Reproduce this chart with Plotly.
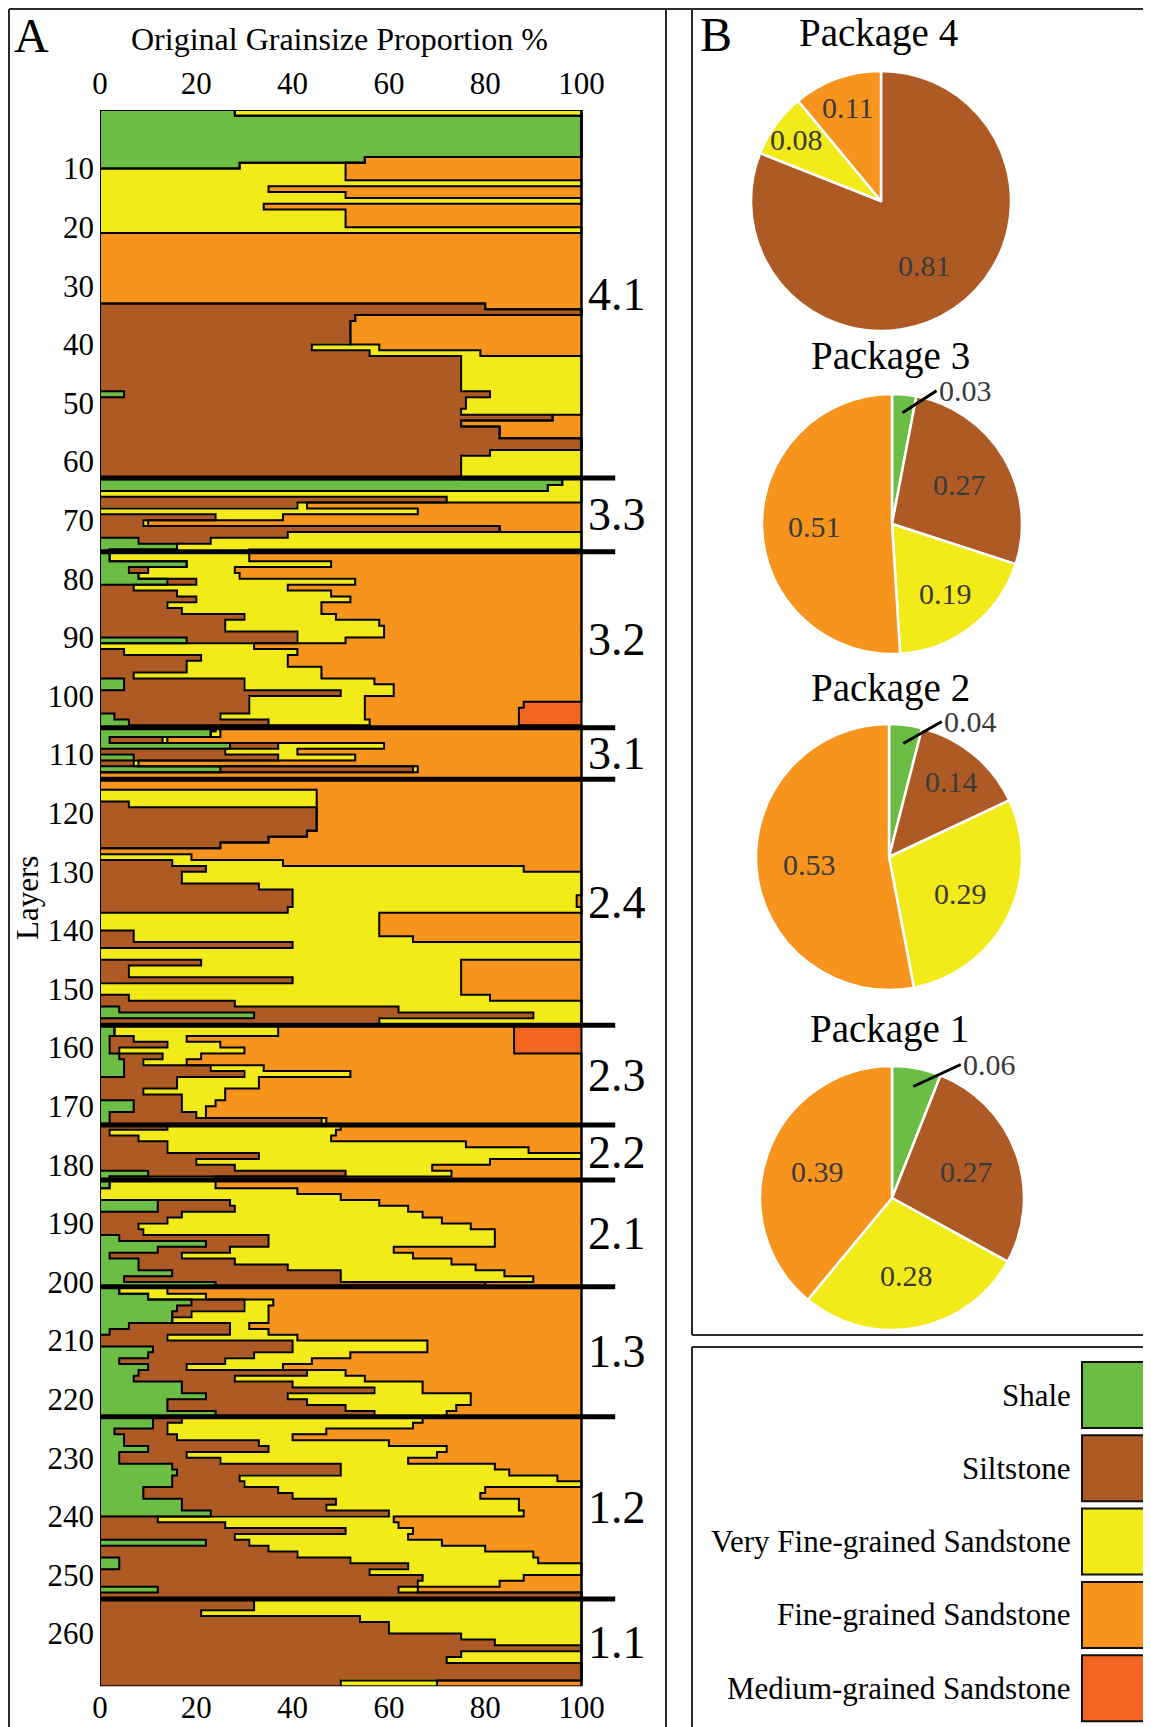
import math
import plotly.graph_objects as go

# the page body has an 8 px margin: the figure is placed at (8, 8)
OFF = 8
W, H = 1151 - OFF, 1727 - OFF

# ------------------------------------------------------------------ data
layers = list(range(1, 270))  # layer 1 = top

# cumulative upper bound (%) of each grain-size class per layer
cum_shale = [
    28, 100, 100, 100, 100, 100, 100, 100, 55, 29,
    0, 0, 0, 0, 0, 0, 0, 0, 0, 0,
    0, 0, 0, 0, 0, 0, 0, 0, 0, 0,
    0, 0, 0, 0, 0, 0, 0, 0, 0, 0,
    0, 0, 0, 0, 0, 0, 0, 0, 5, 0,
    0, 0, 0, 0, 0, 0, 0, 0, 0, 0,
    0, 0, 0, 96, 93, 0, 0, 0, 0, 0,
    0, 0, 0, 8, 16, 2, 2, 18, 6, 8,
    14, 0, 0, 0, 0, 0, 0, 0, 0, 0,
    18, 0, 0, 0, 0, 0, 0, 5, 5, 0,
    0, 0, 0, 3, 6, 24, 23, 2, 27, 0,
    7, 0, 25, 0, 0, 0, 0, 0, 0, 0,
    0, 0, 0, 0, 0, 0, 0, 0, 0, 0,
    0, 0, 0, 0, 0, 0, 0, 0, 0, 0,
    0, 0, 0, 0, 0, 0, 0, 0, 0, 0,
    0, 0, 0, 4, 32, 0, 3, 3, 2, 2,
    2, 4, 5, 5, 5, 0, 0, 0, 0, 7,
    7, 2, 2, 0, 0, 0, 0, 0, 0, 0,
    0, 10, 2, 2, 0, 0, 12, 12, 0, 0,
    0, 0, 4, 22, 12, 2, 8, 8, 15, 5,
    24, 4, 10, 19, 16, 15, 15, 6, 2, 0,
    0, 11, 10, 4, 10, 8, 7, 17, 17, 22,
    14, 14, 24, 11, 11, 3, 5, 5, 10, 4,
    4, 15, 16, 15, 15, 9, 9, 17, 17, 23,
    0, 0, 0, 0, 22, 0, 0, 4, 4, 0,
    0, 0, 12, 0, 0, 0, 0, 0, 0, 0,
    0, 0, 0, 0, 0, 0, 0, 0, 0]

cum_silt = [
    28, 100, 100, 100, 100, 100, 100, 100, 55, 29,
    0, 0, 0, 0, 0, 0, 0, 0, 0, 0,
    0, 0, 0, 0, 0, 0, 0, 0, 0, 0,
    0, 0, 0, 80, 100, 53, 52, 52, 52, 52,
    44, 56, 75, 75, 75, 75, 75, 75, 81, 76,
    76, 75, 94, 75, 83, 83, 100, 100, 81, 75,
    75, 75, 75, 96, 93, 0, 72, 41, 0, 24,
    9, 83, 39, 23, 16, 2, 2, 18, 10, 8,
    20, 7, 16, 20, 14, 17, 30, 26, 26, 41,
    41, 0, 5, 21, 18, 18, 7, 30, 30, 50,
    31, 31, 31, 25, 35, 24, 23, 13, 37, 26,
    37, 7, 65, 0, 0, 0, 0, 0, 6, 45,
    45, 45, 45, 43, 35, 25, 0, 0, 15, 22,
    17, 17, 33, 40, 40, 40, 39, 0, 0, 0,
    7, 7, 40, 0, 0, 21, 6, 6, 40, 0,
    0, 6, 28, 62, 90, 58, 3, 3, 7, 14,
    4, 13, 9, 23, 30, 16, 16, 9, 17, 17,
    17, 20, 46, 14, 2, 8, 14, 14, 33, 20,
    28, 51, 2, 2, 0, 0, 27, 28, 17, 14,
    8, 9, 35, 35, 27, 17, 28, 39, 50, 50,
    80, 4, 10, 30, 30, 19, 15, 27, 27, 14,
    40, 40, 32, 26, 18, 43, 28, 40, 57, 39,
    43, 51, 57, 17, 14, 14, 16, 33, 35, 18,
    25, 50, 50, 29, 30, 37, 40, 49, 47, 60,
    12, 26, 51, 28, 31, 35, 41, 52, 64, 56,
    67, 66, 62, 100, 32, 32, 21, 54, 60, 60,
    75, 82, 100, 75, 72, 100, 100, 100, 50]

cum_vfs = [
    100, 100, 100, 100, 100, 100, 100, 100, 55, 51,
    51, 51, 100, 35, 51, 100, 34, 51, 51, 51,
    100, 0, 0, 0, 0, 0, 0, 0, 0, 0,
    0, 0, 0, 80, 100, 53, 52, 52, 52, 52,
    58, 79, 100, 100, 100, 100, 100, 100, 100, 100,
    100, 100, 94, 75, 83, 83, 100, 100, 100, 100,
    100, 100, 100, 100, 100, 100, 100, 43, 66, 38,
    10, 83, 100, 100, 100, 31, 31, 48, 28, 29,
    53, 39, 48, 52, 46, 46, 49, 58, 59, 59,
    51, 32, 41, 39, 39, 46, 46, 57, 61, 61,
    55, 55, 55, 55, 56, 25, 25, 14, 59, 41,
    53, 8, 66, 0, 0, 0, 45, 45, 45, 45,
    45, 45, 45, 43, 35, 25, 0, 19, 38, 88,
    100, 100, 100, 100, 99, 99, 100, 58, 58, 58,
    58, 65, 100, 100, 100, 75, 75, 75, 75, 75,
    75, 81, 100, 100, 100, 100, 37, 37, 18, 25,
    30, 21, 18, 34, 52, 33, 33, 26, 26, 24,
    22, 22, 47, 50, 49, 48, 76, 89, 100, 81,
    69, 73, 24, 24, 41, 50, 58, 64, 67, 71,
    77, 82, 82, 82, 61, 65, 73, 78, 84, 90,
    80, 14, 22, 36, 35, 35, 35, 31, 35, 41,
    68, 68, 52, 44, 38, 51, 55, 67, 67, 77,
    77, 74, 72, 67, 65, 47, 40, 60, 72, 70,
    64, 82, 85, 95, 100, 80, 79, 87, 87, 88,
    61, 62, 65, 64, 71, 80, 90, 91, 100, 100,
    88, 83, 66, 100, 100, 100, 100, 100, 100, 100,
    100, 100, 100, 100, 100, 100, 100, 100, 70]

cum_fs = [
    100, 100, 100, 100, 100, 100, 100, 100, 100, 100,
    100, 100, 100, 100, 100, 100, 100, 100, 100, 100,
    100, 100, 100, 100, 100, 100, 100, 100, 100, 100,
    100, 100, 100, 100, 100, 100, 100, 100, 100, 100,
    100, 100, 100, 100, 100, 100, 100, 100, 100, 100,
    100, 100, 100, 100, 100, 100, 100, 100, 100, 100,
    100, 100, 100, 100, 100, 100, 100, 100, 100, 100,
    100, 100, 100, 100, 100, 100, 100, 100, 100, 100,
    100, 100, 100, 100, 100, 100, 100, 100, 100, 100,
    100, 100, 100, 100, 100, 100, 100, 100, 100, 100,
    100, 88, 87, 87, 87, 100, 100, 100, 100, 100,
    100, 100, 100, 100, 100, 100, 100, 100, 100, 100,
    100, 100, 100, 100, 100, 100, 100, 100, 100, 100,
    100, 100, 100, 100, 100, 100, 100, 100, 100, 100,
    100, 100, 100, 100, 100, 100, 100, 100, 100, 100,
    100, 100, 100, 100, 100, 100, 86, 86, 86, 86,
    86, 100, 100, 100, 100, 100, 100, 100, 100, 100,
    100, 100, 100, 100, 100, 100, 100, 100, 100, 100,
    100, 100, 100, 100, 100, 100, 100, 100, 100, 100,
    100, 100, 100, 100, 100, 100, 100, 100, 100, 100,
    100, 100, 100, 100, 100, 100, 100, 100, 100, 100,
    100, 100, 100, 100, 100, 100, 100, 100, 100, 100,
    100, 100, 100, 100, 100, 100, 100, 100, 100, 100,
    100, 100, 100, 100, 100, 100, 100, 100, 100, 100,
    100, 100, 100, 100, 100, 100, 100, 100, 100, 100,
    100, 100, 100, 100, 100, 100, 100, 100, 100, 100,
    100, 100, 100, 100, 100, 100, 100, 100, 100]

package_names = ["4.1", "3.3", "3.2", "3.1", "2.4", "2.3", "2.2", "2.1", "1.3", "1.2", "1.1"]
package_bounds = [0, 62.8, 75.4, 105.4, 114.2, 156.2, 173.2, 182.6, 200.8, 223.0, 254.1, 269]

classes = ["Shale", "Siltstone", "Very Fine-grained Sandstone",
           "Fine-grained Sandstone", "Medium-grained Sandstone"]
colors = ["#6BBD45", "#AE5A25", "#F3EA1A", "#F7941E", "#F26522"]

pie_titles = ["Package 4", "Package 3", "Package 2", "Package 1"]
pie_shale = [0.00, 0.03, 0.04, 0.06]
pie_silt = [0.81, 0.27, 0.14, 0.27]
pie_vfs = [0.08, 0.19, 0.29, 0.28]
pie_fs = [0.11, 0.51, 0.53, 0.39]

x_ticks = [0, 20, 40, 60, 80, 100]
y_ticks = list(range(10, 270, 10))

# ------------------------------------------------------------------ helpers
def px(x):
    """page pixel x -> paper fraction"""
    return (x - OFF) / W

def py(y):
    """page pixel y -> paper fraction"""
    return 1 - (y - OFF) / H

SERIF = "Liberation Serif"
N = len(layers)
centers = [l - 0.5 for l in layers]

shale_v = cum_shale
silt_v = [b - a for a, b in zip(cum_shale, cum_silt)]
vfs_v = [b - a for a, b in zip(cum_silt, cum_vfs)]
fs_v = [b - a for a, b in zip(cum_vfs, cum_fs)]
ms_v = [100 - b for b in cum_fs]

fig = go.Figure()

for name, vals, col in zip(classes, [shale_v, silt_v, vfs_v, fs_v, ms_v], colors):
    fig.add_trace(go.Bar(
        y=centers, x=vals, orientation="h", width=1, name=name,
        marker=dict(color=col, line=dict(color=col, width=0.6)),
        showlegend=False, hoverinfo="skip"))

# outlines of the colour regions (step lines along each cumulative boundary)
for cum in [cum_shale, cum_silt, cum_vfs, cum_fs]:
    xs = [cum[0]] + cum + [cum[-1]]
    ys = [0] + centers + [N]
    fig.add_trace(go.Scatter(
        x=xs, y=ys, mode="lines", line=dict(color="black", width=2, shape="vhv"),
        showlegend=False, hoverinfo="skip"))

# package boundary lines
for b in package_bounds[1:-1]:
    fig.add_trace(go.Scatter(
        x=[0, 107], y=[b, b], mode="lines", line=dict(color="black", width=5),
        showlegend=False, hoverinfo="skip"))

# dummy trace to activate the top axis
fig.add_trace(go.Scatter(x=[0], y=[0], xaxis="x2", yaxis="y", mode="markers",
                         marker=dict(opacity=0), showlegend=False, hoverinfo="skip"))

annotations = []
shapes = []

# package labels
for name, a, b in zip(package_names, package_bounds[:-1], package_bounds[1:]):
    annotations.append(dict(x=101, y=(a + b) / 2, xref="x", yref="y", text=name,
                            showarrow=False, xanchor="left", yanchor="middle",
                            font=dict(family=SERIF, size=46, color="black")))

# plot frame
shapes.append(dict(type="rect", xref="x", yref="y", x0=0, x1=100, y0=0, y1=N,
                   line=dict(color="black", width=2), layer="above"))

# ------------------------------------------------------------------ pies
pie_geom = [(881, 201, 130), (892, 524, 130), (889, 857, 133), (892, 1198, 132)]
pie_title_pos = [(878, 33), (890, 356), (890, 688), (889, 1029)]

for p, (cx, cy, r) in enumerate(pie_geom):
    vals = [pie_shale[p], pie_silt[p], pie_vfs[p], pie_fs[p]]
    fig.add_trace(go.Pie(
        values=vals, labels=classes[:4], sort=False, direction="clockwise",
        rotation=0, textinfo="none", hoverinfo="skip", showlegend=False,
        marker=dict(colors=colors[:4], line=dict(color="white", width=2.5)),
        domain=dict(x=[px(cx - r), px(cx + r)], y=[py(cy + r), py(cy - r)])))
    tx, ty = pie_title_pos[p]
    annotations.append(dict(x=px(tx), y=py(ty), xref="paper", yref="paper",
                            text=pie_titles[p], showarrow=False,
                            xanchor="center", yanchor="middle",
                            font=dict(family=SERIF, size=39, color="black")))
    total = sum(vals)
    cum = 0.0
    for v in vals:
        if v <= 0:
            continue
        mid = (cum + v / 2) / total * 2 * math.pi
        cum += v
        txt = f"{v:.2f}"
        if v < 0.07:
            hx = cx + 0.86 * r * math.sin(mid)
            hy = cy - 0.86 * r * math.cos(mid)
            annotations.append(dict(
                x=px(hx), y=py(hy), xref="paper", yref="paper", text=txt,
                showarrow=True, arrowhead=0, arrowwidth=3, arrowcolor="black",
                ax=34 + (v - 0.03) * 450, ay=-22, xanchor="left", yanchor="middle",
                font=dict(family=SERIF, size=30, color="#3a3a3a")))
        else:
            f = 0.6 + max(0.0, 0.25 - v) * 1.2
            lx = cx + f * r * math.sin(mid)
            ly = cy - f * r * math.cos(mid)
            annotations.append(dict(
                x=px(lx), y=py(ly), xref="paper", yref="paper", text=txt,
                showarrow=False, xanchor="center", yanchor="middle",
                font=dict(family=SERIF, size=30, color="#3a3a3a")))

# ------------------------------------------------------------------ legend box
for i, (name, col) in enumerate(zip(classes, colors)):
    top = 1362 + i * 73.3
    shapes.append(dict(type="rect", xref="paper", yref="paper",
                       x0=px(1082), x1=px(1150), y0=py(top + 66), y1=py(top),
                       fillcolor=col, line=dict(color="#111", width=2)))
    annotations.append(dict(x=px(1073), y=py(top + 33), xref="paper", yref="paper",
                            text=name, showarrow=False, xanchor="right", yanchor="middle",
                            font=dict(family=SERIF, size=31, color="black")))

# ------------------------------------------------------------------ panel frames
frame_col = "#2a2a2a"
for (x0, y0, x1, y1) in [(9, 9, 1151, 9), (9, 9, 9, 1727), (666, 9, 666, 1727),
                         (692, 9, 692, 1335), (692, 1335, 1151, 1335),
                         (692, 1347, 1151, 1347), (692, 1347, 692, 1727)]:
    shapes.append(dict(type="line", xref="paper", yref="paper",
                       x0=px(x0), y0=py(y0), x1=px(x1), y1=py(y1),
                       line=dict(color=frame_col, width=2)))

# ------------------------------------------------------------------ texts
annotations += [
    dict(x=px(31), y=py(36), xref="paper", yref="paper", text="A", showarrow=False,
         xanchor="center", yanchor="middle",
         font=dict(family=SERIF, size=48, color="black")),
    dict(x=px(716), y=py(35), xref="paper", yref="paper", text="B", showarrow=False,
         xanchor="center", yanchor="middle",
         font=dict(family=SERIF, size=48, color="black")),
    dict(x=px(339), y=py(39), xref="paper", yref="paper",
         text="Original Grainsize Proportion %", showarrow=False,
         xanchor="center", yanchor="middle",
         font=dict(family=SERIF, size=32, color="black")),
    dict(x=px(27), y=py(898), xref="paper", yref="paper", text="Layers",
         showarrow=False, textangle=-90, xanchor="center", yanchor="middle",
         font=dict(family=SERIF, size=31, color="black")),
]

tickfont = dict(family=SERIF, size=31, color="black")
x_right_px = 100 + 113 * 4.815
axis_common = dict(range=[0, 113], tickvals=x_ticks, showgrid=False, zeroline=False,
                   showline=False, ticks="", tickfont=tickfont, automargin=False,
                   fixedrange=True)

fig.update_layout(
    width=W, height=H,
    margin=dict(l=0, r=0, t=0, b=0),
    paper_bgcolor="white", plot_bgcolor="rgba(0,0,0,0)",
    barmode="stack", bargap=0,
    showlegend=False,
    xaxis=dict(domain=[px(100), px(x_right_px)], anchor="y", side="bottom", **axis_common),
    xaxis2=dict(domain=[px(100), px(x_right_px)], anchor="y", side="top",
                overlaying="x", ticklabelstandoff=9, **axis_common),
    yaxis=dict(domain=[py(110 + N * 5.86), py(110)], range=[N, 0],
               tickvals=y_ticks, showgrid=False, zeroline=False, showline=False,
               ticks="", ticklabelstandoff=5, tickfont=tickfont,
               automargin=False, fixedrange=True),
    annotations=annotations,
    shapes=shapes,
)

fig.write_html("out.html")
